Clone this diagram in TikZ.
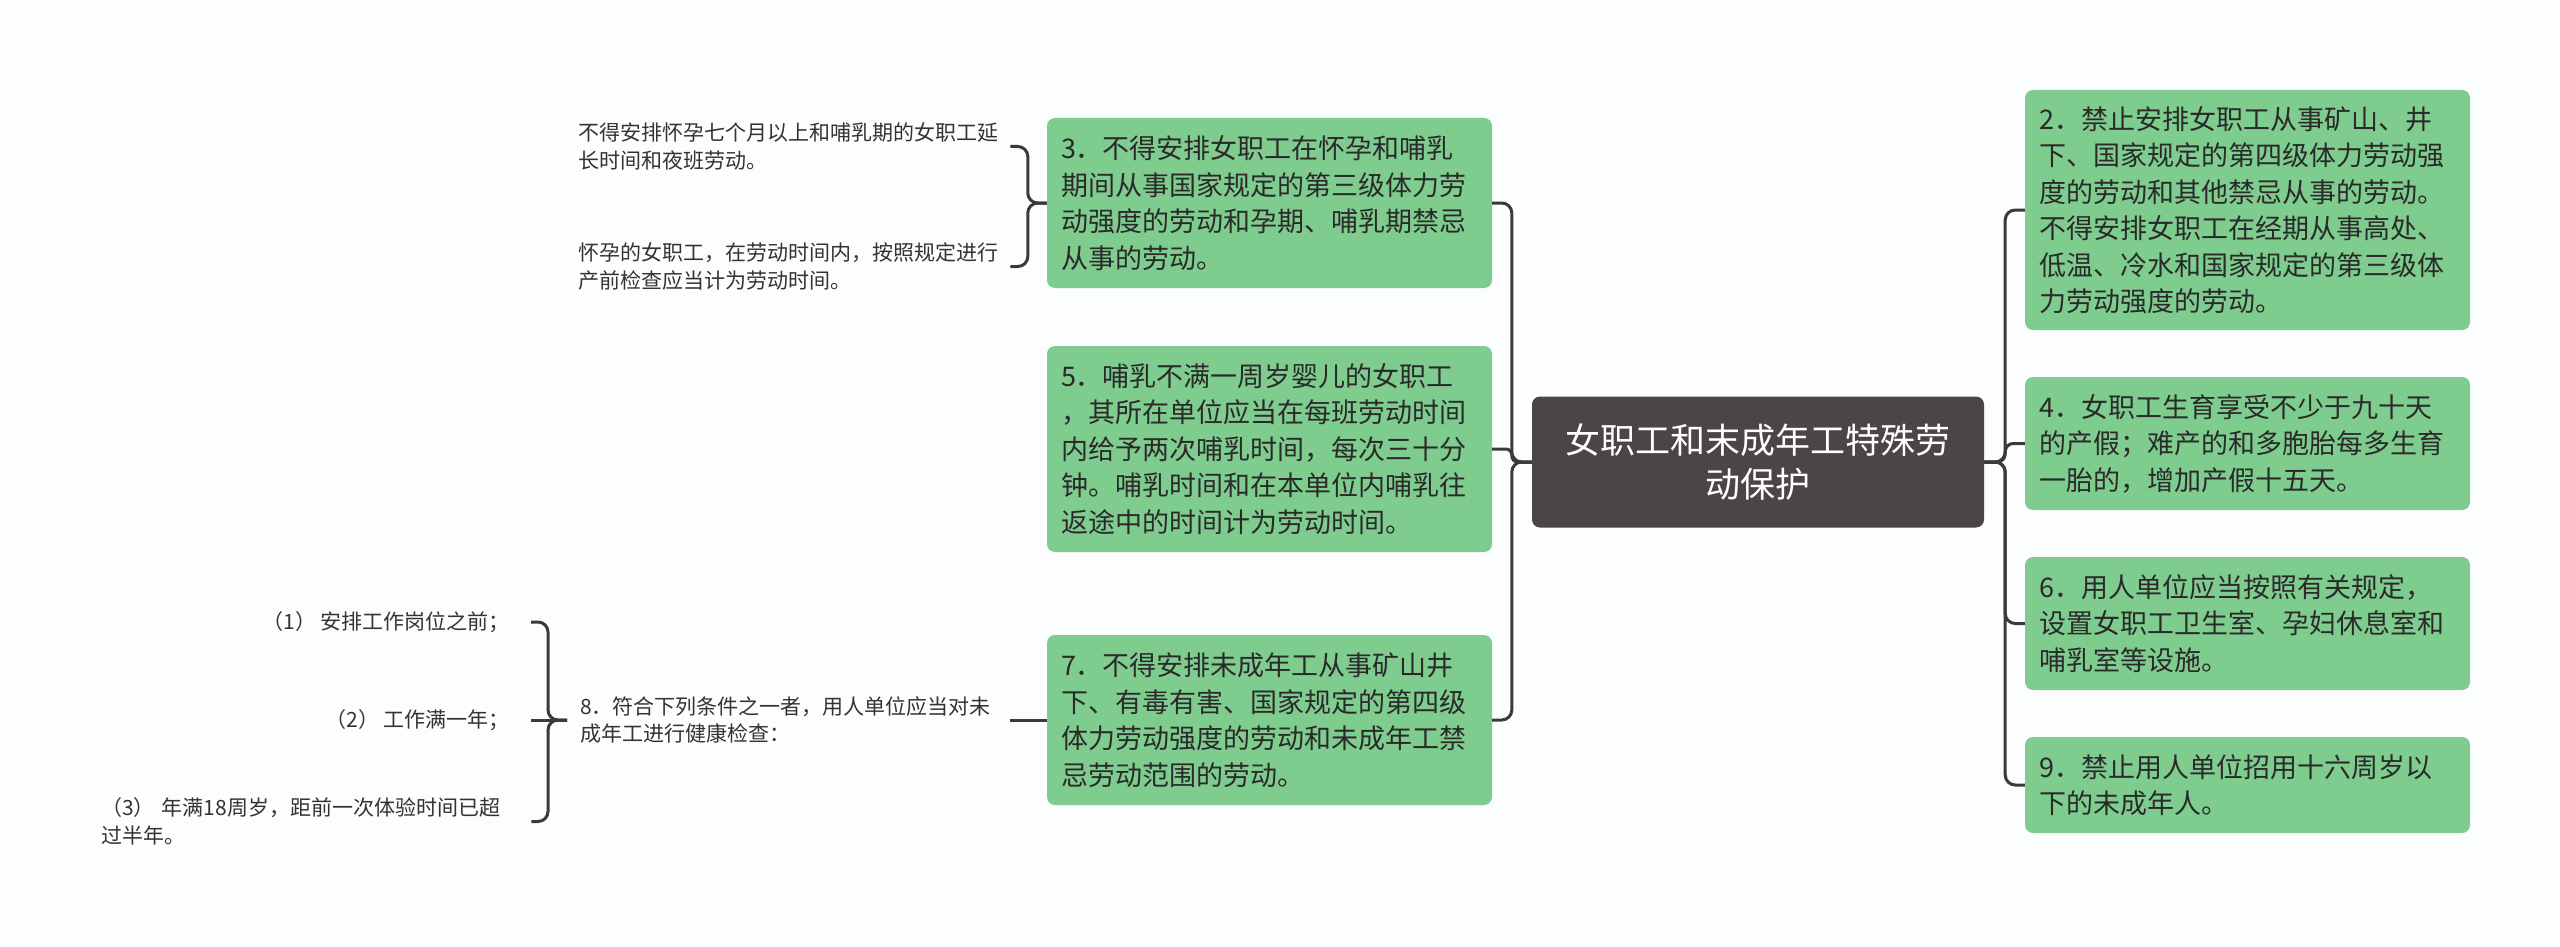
\documentclass[tikz,border=0pt]{standalone}
\usepackage{fontspec}
\setmainfont{Noto Sans CJK SC}
\definecolor{bg}{HTML}{FBFDFE}
\definecolor{gbox}{HTML}{7FCC8F}
\definecolor{cbox}{HTML}{4B4545}
\definecolor{lc}{HTML}{3A3A3A}
\definecolor{ntext}{HTML}{2A2A2A}
\definecolor{stext}{HTML}{333333}
\begin{document}
\begin{tikzpicture}[x=1pt,y=-1pt,
  gnode/.style={fill=gbox, rounded corners=8pt, text=ntext, align=left,
    text width=417pt, inner xsep=14pt, inner ysep=0pt,
    font=\fontsize{27pt}{36.5pt}\selectfont},
  cnode/.style={fill=cbox, rounded corners=8pt, text=white, align=center,
    text width=424pt, inner xsep=14pt, inner ysep=0pt,
    minimum height=131pt, font=\fontsize{35pt}{44pt}\selectfont},
  snode/.style={text=stext, inner sep=0pt, font=\fontsize{21pt}{27.5pt}\selectfont},
  conn/.style={draw=lc, line width=3pt, rounded corners=10pt}]
\useasboundingbox[fill=bg] (0,0) rectangle (2560,947);

% central
\node[cnode] (c) at (1758,462) {女职工和末成年工特殊劳\\动保护};

% left green nodes
\node[gnode, minimum height=170pt] (n3) at (1269.5,203) {3．不得安排女职工在怀孕和哺乳\\期间从事国家规定的第三级体力劳\\动强度的劳动和孕期、哺乳期禁忌\\从事的劳动。};
\node[gnode, minimum height=206pt] (n5) at (1269.5,449) {5．哺乳不满一周岁婴儿的女职工\\，其所在单位应当在每班劳动时间\\内给予两次哺乳时间，每次三十分\\钟。哺乳时间和在本单位内哺乳往\\返途中的时间计为劳动时间。};
\node[gnode, minimum height=170pt] (n7) at (1269.5,720) {7．不得安排未成年工从事矿山井\\下、有毒有害、国家规定的第四级\\体力劳动强度的劳动和未成年工禁\\忌劳动范围的劳动。};

% right green nodes
\node[gnode, minimum height=240pt] (n2) at (2247.5,210) {2．禁止安排女职工从事矿山、井\\下、国家规定的第四级体力劳动强\\度的劳动和其他禁忌从事的劳动。\\不得安排女职工在经期从事高处、\\低温、冷水和国家规定的第三级体\\力劳动强度的劳动。};
\node[gnode, minimum height=133pt] (n4) at (2247.5,443.5) {4．女职工生育享受不少于九十天\\的产假；难产的和多胞胎每多生育\\一胎的，增加产假十五天。};
\node[gnode, minimum height=133pt] (n6) at (2247.5,623.5) {6．用人单位应当按照有关规定，\\设置女职工卫生室、孕妇休息室和\\哺乳室等设施。};
\node[gnode, minimum height=96pt] (n9) at (2247.5,785) {9．禁止用人单位招用十六周岁以\\下的未成年人。};

% small texts of node 3
\node[snode, anchor=west, text width=420pt, align=left] (c31) at (578,146.5) {不得安排怀孕七个月以上和哺乳期的女职工延\\长时间和夜班劳动。};
\node[snode, anchor=west, text width=420pt, align=left] (c32) at (578,266.5) {怀孕的女职工，在劳动时间内，按照规定进行\\产前检查应当计为劳动时间。};

% node 8 and its children
\node[snode, anchor=west, align=left] (n8) at (580,720) {8．符合下列条件之一者，用人单位应当对未\\成年工进行健康检查：};
\node[snode, anchor=east, align=right] (c81) at (510,622) {（1） 安排工作岗位之前；};
\node[snode, anchor=east, align=right] (c82) at (510,720) {（2） 工作满一年；};
\node[snode, anchor=west, text width=409pt, align=left] (c83) at (101,821.5) {（3） 年满18周岁，距前一次体验时间已超\\过半年。};

% connectors: central to left
\draw[conn] (c.west) -- ++(-20,0) |- (n3.east);
\draw[conn, rounded corners=6pt] (c.west) -- ++(-20,0) |- (n5.east);
\draw[conn] (c.west) -- ++(-20,0) |- (n7.east);
% central to right
\draw[conn] (c.east) -- ++(21,0) |- (n2.west);
\draw[conn, rounded corners=8pt] (c.east) -- ++(21,0) |- (n4.west);
\draw[conn] (c.east) -- ++(21,0) |- (n6.west);
\draw[conn] (c.east) -- ++(21,0) |- (n9.west);
% node 3 bracket
\draw[conn] (n3.west) -- ++(-19,0) |- ([xshift=12pt]c31.east);
\draw[conn] (n3.west) -- ++(-19,0) |- ([xshift=12pt]c32.east);
% node 7 to node 8
\draw[conn] (n7.west) -- ([xshift=19pt]n8.east);
% node 8 bracket
\draw[conn] ([xshift=-13pt]n8.west) -- ++(-19,0) |- ([xshift=21pt]c81.east);
\draw[conn] ([xshift=-13pt]n8.west) -- ([xshift=21pt]c82.east);
\draw[conn] ([xshift=-13pt]n8.west) -- ++(-19,0) |- ([xshift=21pt]c83.east);
\end{tikzpicture}
\end{document}
